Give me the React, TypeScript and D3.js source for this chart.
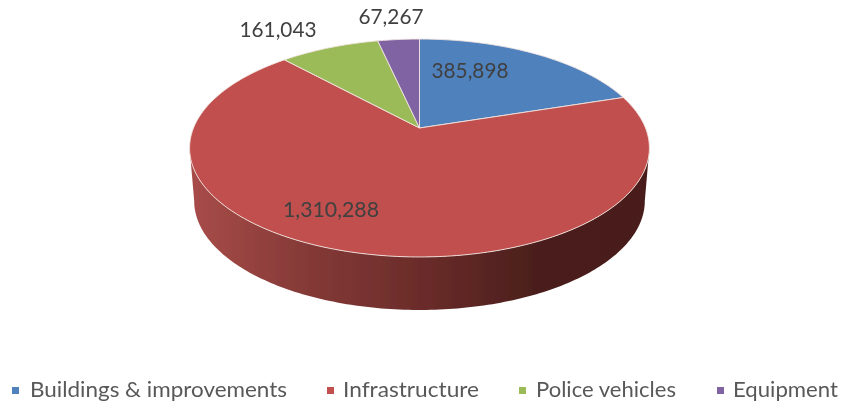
import React from "react";
import * as d3 from "d3";

const categories = ["Buildings & improvements", "Infrastructure", "Police vehicles", "Equipment"];
const values = [385898, 1310288, 161043, 67267];
const colors = ["#4f81bd", "#c0504d", "#9bbb59", "#8064a2"];
const labelPositions = [[470, 72], [331, 211], [278, 31], [391, 18]];
const legendX = [12, 327, 519, 717];
const legendTextX = [30, 343, 536, 733];
const legendWidths = [257, 136, 140, 105];

const W = 841, H = 403;
const apex = { x: 419.5, y: 128 };
const a = 226, b = 105.3, k = 0.1835;
const depth = 53;

const project = (angle: number) => {
  const u = Math.sin(angle), v = -Math.cos(angle);
  const w = 1 - k * v;
  return [apex.x + (a * u) / w, apex.y + (b * v) / w] as [number, number];
};
const line = d3.line();
const pie = d3.pie<number>().sort(null);
const arcs = pie(values);

const rim = (s: number, e: number) => {
  const n = Math.max(2, Math.ceil((e - s) * 60));
  return d3.range(n + 1).map(i => project(s + ((e - s) * i) / n));
};
const slicePath = (s: number, e: number) =>
  line([[apex.x, apex.y], ...rim(s, e)]) + "Z";

const tangent = Math.asin(k);
const wallRim = rim(Math.PI * 0.5 + tangent, Math.PI * 1.5 - tangent);
const wallPts = [
  ...wallRim,
  ...wallRim.slice().reverse().map(([x, y]) => [
    apex.x + (x - apex.x) * 0.98,
    y + depth,
  ] as [number, number]),
];

export default function App() {
  return (
    <svg width={W} height={H} style={{ position: "absolute", left: 0, top: 0, background: "#fff" }}
      fontFamily="Lato, sans-serif">
      <defs>
        <linearGradient id="wall" gradientUnits="userSpaceOnUse" x1={190} x2={649} y1={0} y2={0}>
          <stop offset="0" stopColor="#a84c49" />
          <stop offset="0.25" stopColor="#853a37" />
          <stop offset="0.5" stopColor="#6b2c2a" />
          <stop offset="0.75" stopColor="#4b1f1c" />
          <stop offset="1" stopColor="#4a1e1b" />
        </linearGradient>
        <filter id="soft" x="-5%" y="-5%" width="110%" height="110%">
          <feGaussianBlur stdDeviation="0.5" />
        </filter>
        <filter id="softText" x="-5%" y="-20%" width="110%" height="140%">
          <feGaussianBlur stdDeviation="0.35" />
        </filter>
      </defs>
      <g filter="url(#soft)">
        <path d={line(wallPts) + "Z"} fill="url(#wall)" />
        {arcs.map((d, i) => (
          <path key={categories[i]} d={slicePath(d.startAngle, d.endAngle)} fill={colors[i]}
            stroke="#f2e4e0" strokeWidth={0.9} strokeLinejoin="round" />
        ))}
      </g>
      <g filter="url(#softText)">
        {values.map((v, i) => (
          <text key={i} x={labelPositions[i][0]} y={labelPositions[i][1]} textAnchor="middle"
            fontSize={22} fill="#404040"
            textLength={i === 1 ? 96 : i === 3 ? 65 : 77} lengthAdjust="spacingAndGlyphs"
            dominantBaseline="middle">
            {d3.format(",")(v)}
          </text>
        ))}
        {categories.map((c, i) => (
          <g key={c}>
            <rect x={legendX[i]} y={387} width={7} height={7} fill={colors[i]} />
            <text x={legendTextX[i]} y={397} fontSize={22} fill="#595959"
              textLength={legendWidths[i]} lengthAdjust="spacingAndGlyphs">{c}</text>
          </g>
        ))}
      </g>
    </svg>
  );
}
